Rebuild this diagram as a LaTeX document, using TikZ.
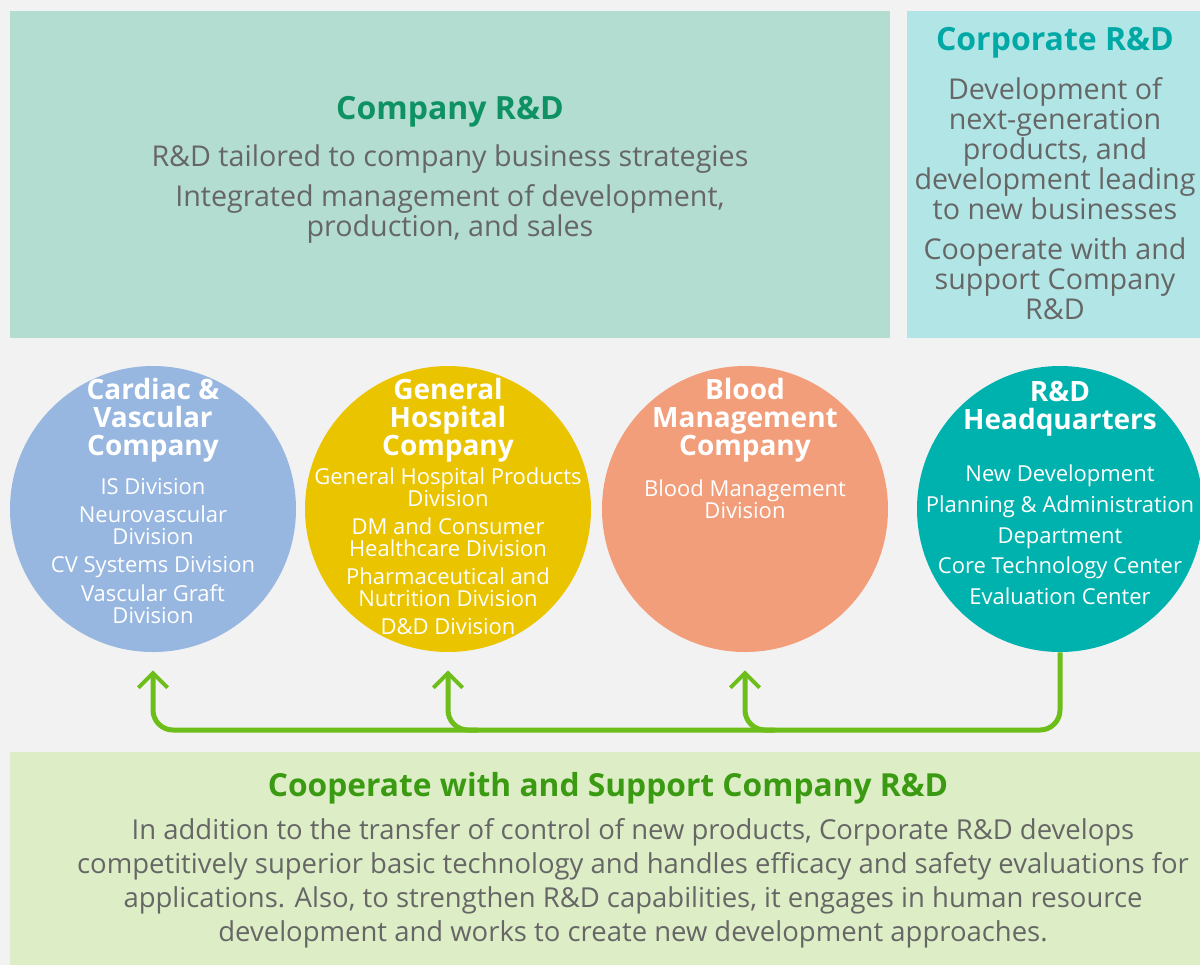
\documentclass[tikz,border=0pt]{standalone}
\usepackage{fontspec}
\setmainfont{Open Sans}
\usetikzlibrary{arrows.meta,calc}

\definecolor{bgGray}{HTML}{F2F2F2}
\definecolor{mintFill}{HTML}{B3DDD1}
\definecolor{cyanFill}{HTML}{B2E6E6}
\definecolor{limeFill}{HTML}{DDEEC6}
\definecolor{cardiacBlue}{HTML}{97B7E0}
\definecolor{hospitalYellow}{HTML}{EBC400}
\definecolor{bloodSalmon}{HTML}{F29E7B}
\definecolor{hqTeal}{HTML}{00B2AE}
\definecolor{linkGreen}{HTML}{6DBE1A}
\definecolor{companyGreen}{HTML}{0E9263}
\definecolor{corporateTeal}{HTML}{00A9A5}
\definecolor{supportGreen}{HTML}{3A9A12}
\definecolor{textGray}{HTML}{666666}

\tikzset{
  unit/.style={circle, minimum size=214.5pt, inner sep=0pt},
  headTxt/.style={align=center, inner sep=0pt, font=\bfseries\fontsize{24}{26}\selectfont},
  bodyTxt/.style={align=center, inner sep=0pt, text=textGray, font=\fontsize{21.5}{22.5}\selectfont},
  unitHead/.style={align=center, inner sep=0pt, text=white, font=\bfseries\fontsize{21}{21}\selectfont},
  unitTxt/.style={align=center, inner sep=0pt, text=white, font=\fontsize{16.5}{16.5}\selectfont},
  link/.style={draw=linkGreen, line width=3.75pt, rounded corners=15pt},
  linkArrow/.style={link, -{Straight Barb[length=11pt,width=22pt,line width=3pt]}}
}

\begin{document}
\begin{tikzpicture}[x=0.75pt,y=0.75pt,yscale=-1,xscale=1]
	% background and frame of the page
	\fill[bgGray] (0,0) rectangle (1200,965);
	\useasboundingbox (0,0) rectangle (1200,965);

	% panels
	\fill[mintFill] (10,11) rectangle (890,338);
	\fill[cyanFill] (907,11) rectangle (1200,338);
	\fill[limeFill] (10,752) rectangle (1200,965);

	% Text Node
	\node[headTxt, text=companyGreen] (companyTitle) at (450,112) {Company R\&D};
	% Text Node
	\node[bodyTxt] (companyText) at (450,194) {R\&D tailored to company business strategies\\[7.5pt]
		Integrated management of development,\\ production, and sales};
	% Text Node
	\node[headTxt, text=corporateTeal] (corporateTitle) at (1055,43) {Corporate R\&D};
	% Text Node
	\node[bodyTxt] (corporateText) at (1055,199) {Development of\\ next-generation\\ products, and\\
		development leading\\ to new businesses\\[7.5pt] Cooperate with and\\ support Company\\ R\&D};

	% companies
	\node[unit, fill=cardiacBlue] (cardiac) at (153,509) {};
	\node[unit, fill=hospitalYellow] (hospital) at (448,509) {};
	\node[unit, fill=bloodSalmon] (blood) at (745,509) {};
	\node[unit, fill=hqTeal] (hq) at (1060,509) {};

	% Text Node
	\node[unitHead] (cardiacTitle) at (153,420) {Cardiac \&\\ Vascular\\ Company};
	\node[unitTxt] (cardiacText) at (153,551) {IS Division\\[4.5pt] Neurovascular\\ Division\\[4.5pt]
		CV Systems Division\\[4.5pt] Vascular Graft\\ Division};
	% Text Node
	\node[unitHead] (hospitalTitle) at (448,420) {General\\ Hospital\\ Company};
	\node[unitTxt] (hospitalText) at (448,551) {General Hospital Products\\ Division\\[4.5pt]
		DM and Consumer\\ Healthcare Division\\[4.5pt] Pharmaceutical and\\ Nutrition Division\\[4.5pt] D\&D Division};
	% Text Node
	\node[unitHead] (bloodTitle) at (745,420) {Blood\\ Management\\ Company};
	\node[unitTxt] (bloodText) at (745,499) {Blood Management\\ Division};
	% Text Node
	\node[unitHead] (hqTitle) at (1060,409) {R\&D\\ Headquarters};
	\node[unitTxt, font=\fontsize{16.5}{23}\selectfont] (hqText) at (1060,535) {New Development\\
		Planning \& Administration\\ Department\\ Core Technology Center\\ Evaluation Center};

	% connectors
	\coordinate (busY) at (0,730);
	\coordinate (cardiacTip) at ([yshift=13.5pt]cardiac.south);
	\coordinate (hospitalTip) at ([yshift=13.5pt]hospital.south);
	\coordinate (bloodTip) at ([yshift=13.5pt]blood.south);
	\draw[linkArrow] (hq.south) |- (cardiac.south |- busY) -- (cardiacTip);
	\draw[linkArrow] ($(hospital.south |- busY)+(30,0)$) -| (hospitalTip);
	\draw[linkArrow] ($(blood.south |- busY)+(30,0)$) -| (bloodTip);

	% Text Node
	\node[headTxt, text=supportGreen, font=\bfseries\fontsize{23.8}{26}\selectfont] (supportTitle) at (608,788)
		{Cooperate with and Support Company R\&D};
	% Text Node
	\node[bodyTxt, font=\fontsize{20.6}{25.5}\selectfont] (supportText) at (633,883)
		{In addition to the transfer of control of new products, Corporate R\&D develops\\
		competitively superior basic technology and handles efficacy and safety evaluations for\\
		applications. Also, to strengthen R\&D capabilities, it engages in human resource\\
		development and works to create new development approaches.};
\end{tikzpicture}
\end{document}
